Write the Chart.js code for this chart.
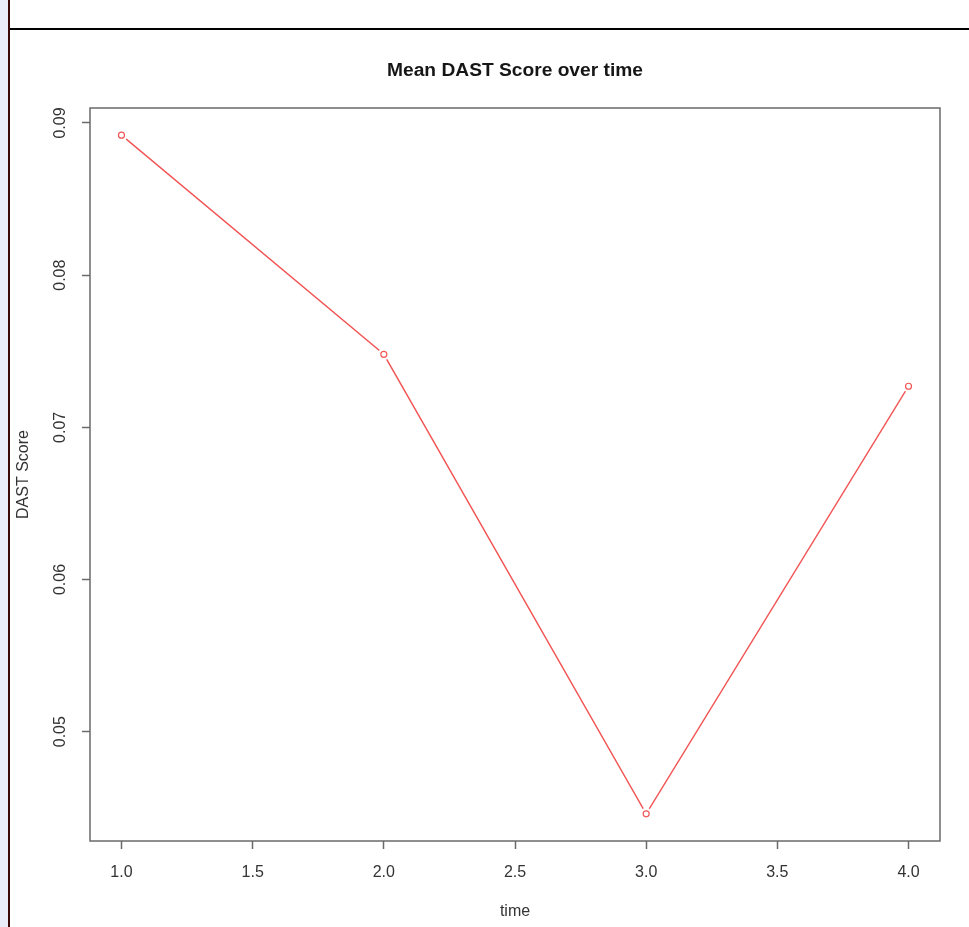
<!DOCTYPE html>
<html>
<head>
<meta charset="utf-8">
<script src="https://cdn.jsdelivr.net/npm/chart.js@4"></script>
<style>
  html, body { margin: 0; padding: 0; background: #ffffff; width: 969px; height: 927px; overflow: hidden; }
  #strip { position: absolute; left: 0; top: 0; width: 8px; height: 927px; background: #eaedf8; }
  #edge { position: absolute; left: 8px; top: 0; width: 2px; height: 927px; background: #3a0606; }
  #topline { position: absolute; left: 10px; top: 28px; width: 959px; height: 2px; background: #000000; }
  #c { position: absolute; left: 0; top: 0; }
</style>
</head>
<body>
<div id="strip"></div>
<div id="edge"></div>
<div id="topline"></div>
<canvas id="c" width="969" height="927"></canvas>
<script>
// ---- data ----
const timePoints = [1, 2, 3, 4];
const dastScores = [0.0892, 0.0748, 0.0446, 0.0727];
const xTicks = [1.0, 1.5, 2.0, 2.5, 3.0, 3.5, 4.0];
const xTickLabels = ["1.0", "1.5", "2.0", "2.5", "3.0", "3.5", "4.0"];
const yTicks = [0.05, 0.06, 0.07, 0.08, 0.09];
const yTickLabels = ["0.05", "0.06", "0.07", "0.08", "0.09"];
const chartTitle = "Mean DAST Score over time";
const xTitle = "time";
const yTitle = "DAST Score";

// R-style 4% axis expansion
function expand(arr) {
  const lo = Math.min(...arr), hi = Math.max(...arr);
  const d = (hi - lo) * 0.04;
  return [lo - d, hi + d];
}
const [xMin, xMax] = expand(timePoints);
const [yMin, yMax] = expand(dastScores);

const points = timePoints.map((t, i) => ({ x: t, y: dastScores[i] }));

const FONT = "'Liberation Sans', Arial, sans-serif";
const RED = "#f25555";
const AXIS = "#6a6a6a";
const TXT = "#333333";

const boxPlugin = {
  id: 'boxAndTitle',
  afterDraw(chart) {
    const { ctx, chartArea: a } = chart;
    ctx.save();
    ctx.strokeStyle = AXIS;
    ctx.lineWidth = 1.5;
    ctx.strokeRect(a.left, a.top, a.right - a.left, a.bottom - a.top);
    ctx.fillStyle = "#161616";
    ctx.font = "bold 19.2px " + FONT;
    ctx.textAlign = "center";
    ctx.textBaseline = "middle";
    ctx.fillText(chartTitle, (a.left + a.right) / 2, 70.5);
    ctx.restore();
  }
};

new Chart(document.getElementById('c'), {
  type: 'scatter',
  data: {
    datasets: [
      {
        data: points, showLine: true, borderColor: RED, borderWidth: 1.4,
        pointRadius: 0, pointHoverRadius: 0, order: 3
      },
      {
        data: points, showLine: false, pointRadius: 6, pointBorderWidth: 0,
        pointBackgroundColor: "#ffffff", pointBorderColor: "#ffffff", order: 2
      },
      {
        data: points, showLine: false, pointRadius: 3, pointBorderWidth: 1.2,
        pointBackgroundColor: "rgba(255,255,255,0)", pointBorderColor: RED, order: 1
      }
    ]
  },
  options: {
    responsive: false,
    animation: false,
    devicePixelRatio: 1,
    layout: { padding: { left: 0, top: 108, right: 29, bottom: 0 } },
    plugins: { legend: { display: false }, tooltip: { enabled: false }, title: { display: false } },
    scales: {
      x: {
        type: 'linear', position: 'bottom', min: xMin, max: xMax,
        afterBuildTicks: s => { s.ticks = xTicks.map(v => ({ value: v })); },
        afterFit: s => { s.height = 86; },
        grid: { display: true, drawOnChartArea: false, drawTicks: true, tickLength: 8, tickColor: AXIS, tickWidth: 1.5 },
        border: { display: false },
        ticks: {
          autoSkip: false, maxRotation: 0, minRotation: 0, padding: 14,
          color: TXT, font: { family: FONT, size: 16 },
          callback: (v, i) => xTickLabels[i]
        },
        title: { display: true, text: xTitle, color: TXT, font: { family: FONT, size: 16 }, padding: { top: 0, bottom: 5.6 } }
      },
      y: {
        type: 'linear', position: 'left', min: yMin, max: yMax,
        afterBuildTicks: s => { s.ticks = yTicks.map(v => ({ value: v })); },
        afterFit: s => { s.width = 90; },
        grid: { display: true, drawOnChartArea: false, drawTicks: true, tickLength: 8, tickColor: AXIS, tickWidth: 1.5 },
        border: { display: false },
        ticks: {
          autoSkip: false, minRotation: 90, maxRotation: 90, crossAlign: 'center', padding: 6,
          color: TXT, font: { family: FONT, size: 16 },
          callback: (v, i) => yTickLabels[i]
        },
        title: { display: true, text: yTitle, color: TXT, font: { family: FONT, size: 16 }, padding: { top: 14, bottom: 0 } }
      }
    }
  },
  plugins: [boxPlugin]
});
</script>
</body>
</html>
